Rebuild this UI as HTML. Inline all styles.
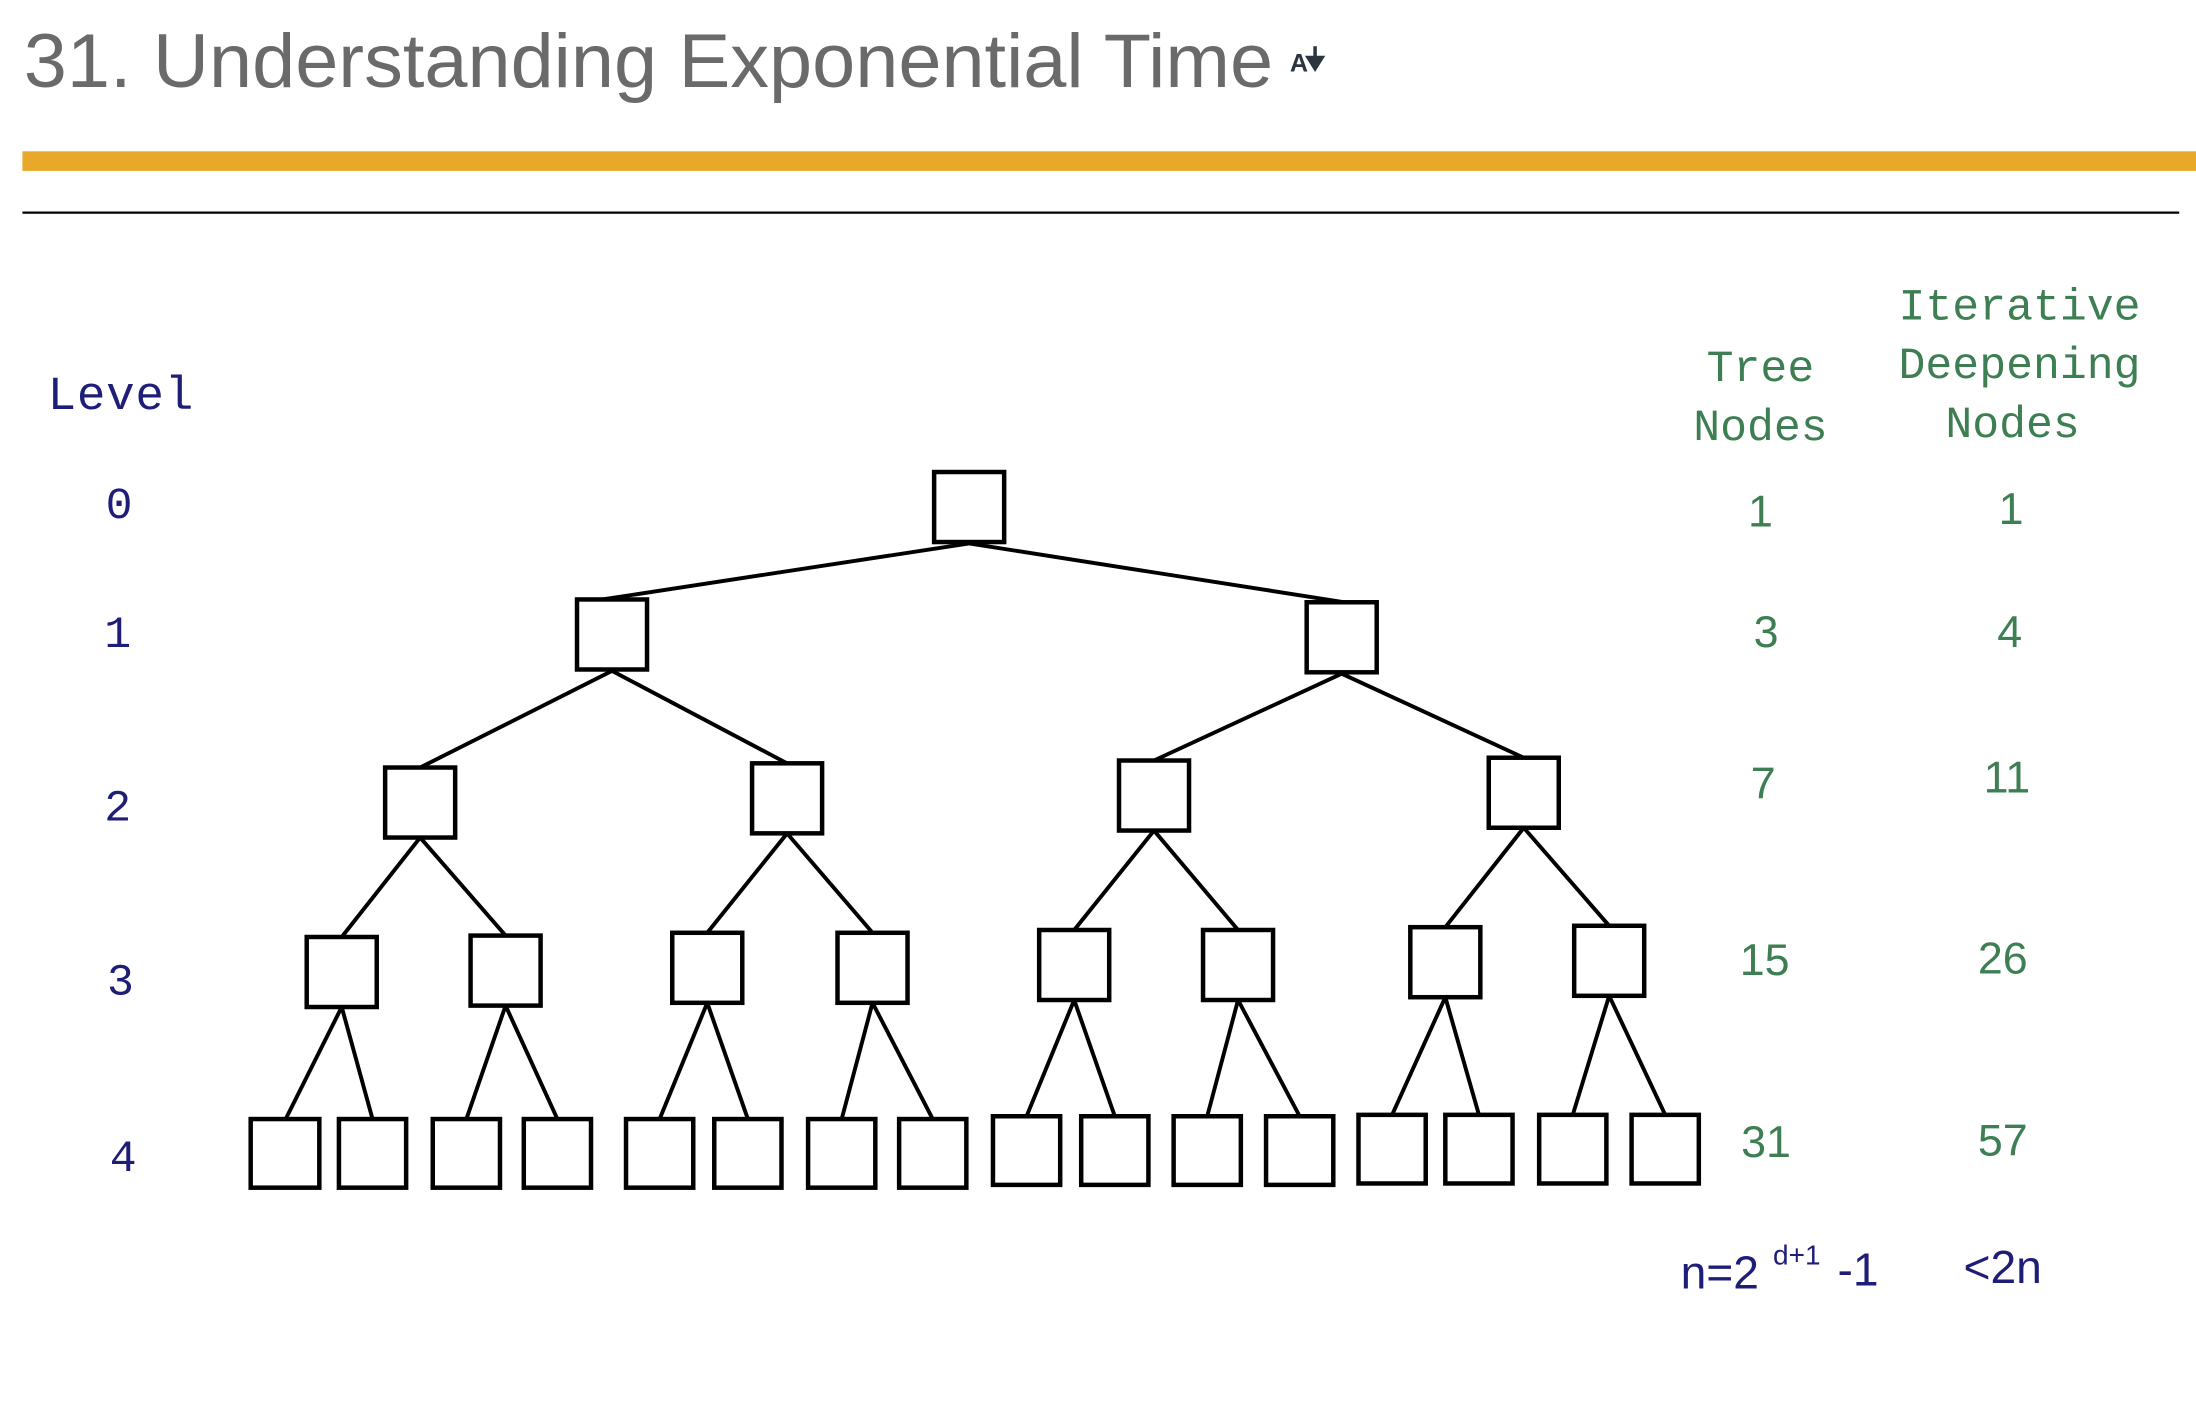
<!DOCTYPE html>
<html><head><meta charset="utf-8"><style>
html,body{margin:0;padding:0;background:#fff;width:2196px;height:1402px;overflow:hidden}
svg{display:block}
.m{font-family:"Liberation Mono",monospace;font-size:32px}
.s{font-family:"Liberation Sans",sans-serif;font-size:32px}
</style></head><body>
<svg width="2196" height="1402" viewBox="0 0 1568 1001" xmlns="http://www.w3.org/2000/svg">
<text x="17" y="62" font-family="Liberation Sans, sans-serif" font-size="54" fill="#6a6a6a" textLength="892" lengthAdjust="spacingAndGlyphs">31. Understanding Exponential Time</text>
<text x="921" y="51" font-family="Liberation Sans, sans-serif" font-weight="bold" font-size="18" fill="#2a3540">A</text>
<path d="M939 33 V44 M934 41 L939 49 L944 41 Z" stroke="#2a3540" stroke-width="2.5" fill="#2a3540"/>
<rect x="16" y="108" width="1552" height="14" fill="#E8A82A"/>
<rect x="16" y="151" width="1540" height="1.6" fill="#000"/>
<g stroke="#000" stroke-width="2.8" fill="none">
<path d="M692 388 L430 428 M692 388 L960 430
M437 479 L300 548 M437 479 L562 545 M958 481 L824 543 M958 481 L1088 541
M300 598 L244 669 M300 598 L361 668 M562 595 L505 666 M562 595 L623 666 M824 593 L767 664 M824 593 L884 664 M1088 591 L1032 662 M1088 591 L1149 661
M244 719 L204 799 M244 719 L266 799 M361 718 L333 799 M361 718 L398 799 M505 716 L471 799 M505 716 L534 799 M623 716 L601 799 M623 716 L666 799 M767 714 L733 797 M767 714 L796 797 M884 714 L862 797 M884 714 L928 797 M1032 712 L994 796 M1032 712 L1056 796 M1149 711 L1123 796 M1149 711 L1189 796"/>
</g>
<g stroke="#000" stroke-width="3.2" fill="#fff">
<rect x="667" y="337" width="50" height="50"/>
<rect x="412" y="428" width="50" height="50"/><rect x="933" y="430" width="50" height="50"/>
<rect x="275" y="548" width="50" height="50"/><rect x="537" y="545" width="50" height="50"/><rect x="799" y="543" width="50" height="50"/><rect x="1063" y="541" width="50" height="50"/>
<rect x="219" y="669" width="50" height="50"/><rect x="336" y="668" width="50" height="50"/><rect x="480" y="666" width="50" height="50"/><rect x="598" y="666" width="50" height="50"/><rect x="742" y="664" width="50" height="50"/><rect x="859" y="664" width="50" height="50"/><rect x="1007" y="662" width="50" height="50"/><rect x="1124" y="661" width="50" height="50"/>
<rect x="179" y="799" width="49" height="49"/><rect x="242" y="799" width="48" height="49"/><rect x="309" y="799" width="48" height="49"/><rect x="374" y="799" width="48" height="49"/><rect x="447" y="799" width="48" height="49"/><rect x="510" y="799" width="48" height="49"/><rect x="577" y="799" width="48" height="49"/><rect x="642" y="799" width="48" height="49"/><rect x="709" y="797" width="48" height="49"/><rect x="772" y="797" width="48" height="49"/><rect x="838" y="797" width="48" height="49"/><rect x="904" y="797" width="48" height="49"/><rect x="970" y="796" width="48" height="49"/><rect x="1032" y="796" width="48" height="49"/><rect x="1099" y="796" width="48" height="49"/><rect x="1165" y="796" width="48" height="49"/>
</g>
<g class="m" fill="#1e1e78" font-size="34">
<text x="34" y="292" font-size="34" textLength="104">Level</text>
<text x="85" y="370" text-anchor="middle">0</text>
<text x="84" y="462" text-anchor="middle">1</text>
<text x="84" y="586" text-anchor="middle">2</text>
<text x="86" y="710" text-anchor="middle">3</text>
<text x="88" y="836" text-anchor="middle">4</text>
</g>
<g class="m" fill="#3d7f53" text-anchor="middle">
<text x="1257" y="272">Tree</text>
<text x="1257" y="314">Nodes</text>
<text x="1442" y="228">Iterative</text>
<text x="1442" y="270">Deepening</text>
<text x="1437" y="312">Nodes</text>
</g>
<g class="s" fill="#3d7f53" text-anchor="middle">
<text x="1257" y="376">1</text><text x="1261" y="462">3</text><text x="1259" y="570">7</text><text x="1260" y="696">15</text><text x="1261" y="826">31</text>
<text x="1436" y="374">1</text><text x="1435" y="462">4</text><text x="1433" y="566">11</text><text x="1430" y="695">26</text><text x="1430" y="825">57</text>
</g>
<g font-family="Liberation Sans, sans-serif" fill="#1e1e78">
<text x="1200" y="920" font-size="33">n=2</text>
<text x="1266" y="903" font-size="20">d+1</text>
<text x="1312" y="918" font-size="33">-1</text>
<text x="1402" y="916" font-size="33">&lt;2n</text>
</g>
</svg>
</body></html>
